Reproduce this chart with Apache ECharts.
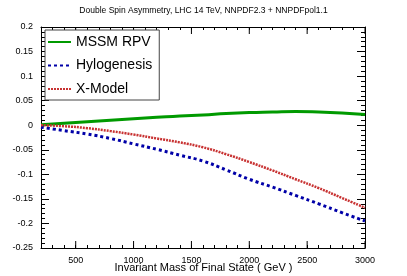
<!DOCTYPE html>
<html>
<head>
<meta charset="utf-8">
<script src="https://cdn.jsdelivr.net/npm/echarts@6/dist/echarts.min.js"></script>
<style>
html,body{margin:0;padding:0;background:#fff;}
</style>
</head>
<body>
<div id="chart" style="width:407px;height:276px"></div>
<script>
const massValues = [200, 400, 600, 800, 1000, 1200, 1400, 1600, 1800, 2000, 2200, 2400, 2600, 2800, 3000];
const mssmRpv = [0.001, 0.004, 0.007, 0.010, 0.013, 0.016, 0.019, 0.021, 0.024, 0.026, 0.027, 0.028, 0.027, 0.025, 0.022];
const hylogenesis = [-0.004, -0.011, -0.018, -0.027, -0.038, -0.049, -0.061, -0.073, -0.091, -0.110, -0.126, -0.143, -0.160, -0.178, -0.195];
const xModel = [0.000, -0.002, -0.006, -0.012, -0.019, -0.027, -0.035, -0.045, -0.059, -0.075, -0.092, -0.110, -0.128, -0.148, -0.168];
const xMajorTicks = [500, 1000, 1500, 2000, 2500, 3000];
const seriesNames = ['MSSM RPV', 'Hylogenesis', 'X-Model'];
const titleText = 'Double Spin Asymmetry, LHC 14 TeV, NNPDF2.3 + NNPDFpol1.1';
const xTitle = 'Invariant Mass of Final State ( GeV )';
const yTitleMain = 'A';
const yTitleSub = 'LL';
const yTitleRest = '  (  p p  >  t  +  χ  +  c.c  )';

const FONT = 'Liberation Sans';
const X_MIN = 200, X_MAX = 3000, Y_MIN = -0.25, Y_MAX = 0.2;
const pairs = arr => massValues.map((m, i) => [m, arr[i]]);

function makeX(position, withLabels) {
  return {
    type: 'value', position: position, min: X_MIN, max: X_MAX, interval: 100,
    splitLine: {show: false},
    axisLine: {show: true, onZero: false, lineStyle: {color: '#000', width: 1}},
    axisTick: {show: true, inside: true, length: 3, lineStyle: {color: '#000', width: 1}},
    axisLabel: withLabels
      ? {show: true, fontSize: 9, color: '#000', formatter: v => (v % 500 === 0 ? String(v) : '')}
      : {show: false}
  };
}
function makeY(position, withLabels) {
  const ax = {
    type: 'value', position: position, min: Y_MIN, max: Y_MAX, interval: 0.05,
    splitLine: {show: false},
    axisLine: {show: true, onZero: false, lineStyle: {color: '#000', width: 1}},
    axisTick: {show: true, inside: true, length: 8, lineStyle: {color: '#000', width: 1}},
    minorTick: {show: true, splitNumber: 5, length: 4, lineStyle: {color: '#000', width: 1}},
    axisLabel: withLabels ? {show: true, fontSize: 9, color: '#000'} : {show: false}
  };
  if (withLabels) {
    ax.name = '{a|' + yTitleMain + '}{s|' + yTitleSub + '}{a|' + yTitleRest + '}';
    ax.nameLocation = 'middle';
    ax.nameRotate = 90;
    ax.nameGap = 24;
    ax.nameTextStyle = {
      color: '#000', padding: [0, 32, 0, 0],
      rich: {
        a: {fontSize: 14, color: '#000', lineHeight: 18, verticalAlign: 'middle'},
        s: {fontSize: 8, color: '#000', lineHeight: 18, verticalAlign: 'bottom'}
      }
    };
  }
  return ax;
}

const option = {
  animation: false,
  backgroundColor: '#fff',
  textStyle: {fontFamily: FONT},
  title: [
    {
      text: titleText, left: 'center', top: 6, padding: 0,
      textStyle: {fontSize: 8.5, fontWeight: 'normal', color: '#000'}
    },
    {
      text: xTitle, left: 'center', top: 262, padding: 0,
      textStyle: {fontSize: 11, fontWeight: 'normal', color: '#000'}
    }
  ],
  grid: {left: 41, right: 42, top: 27, bottom: 28, outerBoundsMode: 'none'},
  legend: {
    orient: 'vertical', left: 45, top: 30,
    data: seriesNames,
    itemWidth: 23, itemHeight: 14, itemGap: 9.5,
    padding: [5, 7, 4, 2],
    borderColor: '#444', borderWidth: 1, backgroundColor: '#fff',
    itemStyle: {color: 'rgba(0,0,0,0)', borderWidth: 0},
    textStyle: {fontSize: 14, color: '#000'}
  },
  xAxis: [makeX('bottom', true), makeX('top', false)],
  yAxis: [makeY('left', true), makeY('right', false)],
  series: [
    {
      name: seriesNames[0], type: 'line', data: pairs(mssmRpv), smooth: true, symbol: 'none',
      lineStyle: {color: '#009a00', width: 3, type: 'solid'}, itemStyle: {color: '#009a00'}
    },
    {
      name: seriesNames[1], type: 'line', data: pairs(hylogenesis), smooth: true, symbol: 'none',
      lineStyle: {color: '#0000a8', width: 3, type: [3, 3]}, itemStyle: {color: '#0000a8'}
    },
    {
      name: seriesNames[2], type: 'line', data: pairs(xModel), smooth: true, symbol: 'none',
      lineStyle: {color: '#c83232', width: 2.5, type: [2, 1]}, itemStyle: {color: '#c83232'}
    },
    {
      name: 'majorTicks', type: 'custom', silent: true, clip: false,
      data: xMajorTicks.map(v => [v, Y_MIN]),
      encode: {x: 0, y: 1},
      renderItem: function (params, api) {
        const x = api.value(0);
        const b = api.coord([x, Y_MIN]);
        const t = api.coord([x, Y_MAX]);
        const st = {stroke: '#000', lineWidth: 1};
        return {
          type: 'group',
          children: [
            {type: 'line', shape: {x1: b[0], y1: b[1], x2: b[0], y2: b[1] - 7}, style: st},
            {type: 'line', shape: {x1: t[0], y1: t[1], x2: t[0], y2: t[1] + 7}, style: st}
          ]
        };
      }
    }
  ]
};
const chart = echarts.init(document.getElementById('chart'));
chart.setOption(option);
</script>
</body>
</html>
